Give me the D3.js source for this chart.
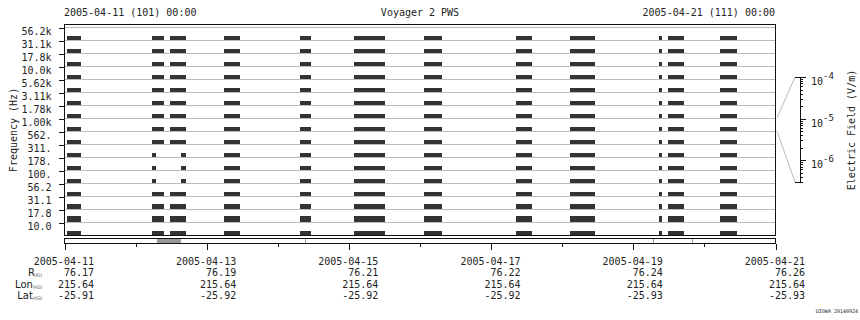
<!DOCTYPE html>
<html>
<head>
<meta charset="utf-8">
<script src="https://cdn.jsdelivr.net/npm/d3@7"></script>
<style>
  html, body { margin: 0; padding: 0; background: #fff; }
  svg { display: block; }
  text { font-family: "DejaVu Sans Mono", monospace; font-size: 10px; fill: #222; }
</style>
</head>
<body>
<div id="chart"></div>
<script>
// --- data ---
const channels = ["56.2k", "31.1k", "17.8k", "10.0k", "5.62k", "3.11k", "1.78k", "1.00k",
                  "562.", "311.", "178.", "100.", "56.2", "31.1", "17.8", "10.0"];
// strip height per channel (px of signal)
const stripLevel = [4, 4, 4, 4, 4, 4, 4, 4, 4, 4, 4, 4, 4, 5, 6, 4];

// times with data (UT)
const segments = [
  ["2005-04-11T01:00", "2005-04-11T05:45"],
  ["2005-04-12T05:40", "2005-04-12T09:45"],
  ["2005-04-12T11:45", "2005-04-12T17:10"],
  ["2005-04-13T06:00", "2005-04-13T11:25"],
  ["2005-04-14T07:40", "2005-04-14T11:25"],
  ["2005-04-15T01:55", "2005-04-15T12:20"],
  ["2005-04-16T01:30", "2005-04-16T07:35"],
  ["2005-04-17T08:35", "2005-04-17T14:00"],
  ["2005-04-18T02:50", "2005-04-18T11:15"],
  ["2005-04-19T08:50", "2005-04-19T09:55"],
  ["2005-04-19T11:55", "2005-04-19T17:20"],
  ["2005-04-20T05:25", "2005-04-20T11:10"]
];
// channels that only have small pieces during segments 2 and 3
const gapChannels = ["311.", "178.", "100."];
const gapSegments = [1, 2];
const partialPieces = [
  ["2005-04-12T05:40", "2005-04-12T07:05"],
  ["2005-04-12T15:30", "2005-04-12T17:10"]
];

// time bar
const coverage = [["2005-04-12T07:25", "2005-04-12T15:30"]];
const markers = ["2005-04-14T09:20", "2005-04-19T06:50", "2005-04-19T20:00"];

// bottom ephemeris table
const tickDates = ["2005-04-11", "2005-04-13", "2005-04-15", "2005-04-17", "2005-04-19", "2005-04-21"];
const rAU = ["76.17", "76.19", "76.21", "76.22", "76.24", "76.26"];
const lonHGI = ["215.64", "215.64", "215.64", "215.64", "215.64", "215.64"];
const latHGI = ["-25.91", "-25.92", "-25.92", "-25.92", "-25.93", "-25.93"];

// colour bar
const fieldDomain = [3e-7, 1e-4];

const W = 860, H = 320;
const mLeft = 64, mRight = 775, mTop = 24, mBottom = 235;
const parse = d3.utcParse("%Y-%m-%dT%H:%M");
const parseDay = d3.utcParse("%Y-%m-%d");

const svg = d3.select("#chart").append("svg")
  .attr("width", W).attr("height", H)
  .attr("viewBox", `0 0 ${W} ${H}`);

const x = d3.scaleUtc()
  .domain([parseDay("2005-04-11"), parseDay("2005-04-21")])
  .range([mLeft, mRight]);

const yBand = d3.scaleBand().domain(channels).range([27, 235]).padding(0);
const yTick = d3.scalePoint().domain(channels).range([27, 222]);

// gray channel lines
svg.append("g").selectAll("line").data(channels).join("line")
  .attr("x1", mLeft).attr("x2", mRight)
  .attr("y1", d => yTick(d) + 0.5).attr("y2", d => yTick(d) + 0.5)
  .attr("stroke", "#bbb").attr("stroke-width", 1)
  .attr("shape-rendering", "crispEdges");

// signal strips
const bars = [];
segments.forEach((s, si) => {
  channels.forEach((ch, ci) => {
    if (gapChannels.includes(ch) && gapSegments.includes(si)) return;
    bars.push({ t0: parse(s[0]), t1: parse(s[1]), ch, h: stripLevel[ci] });
  });
});
gapChannels.forEach(ch => {
  const ci = channels.indexOf(ch);
  partialPieces.forEach(p => bars.push({ t0: parse(p[0]), t1: parse(p[1]), ch, h: stripLevel[ci] }));
});

svg.append("g").selectAll("rect").data(bars).join("rect")
  .attr("x", d => Math.round(x(d.t0)))
  .attr("width", d => Math.max(1, Math.round(x(d.t1)) - Math.round(x(d.t0))))
  .attr("y", d => yBand(d.ch) + yBand.bandwidth() - d.h)
  .attr("height", d => d.h)
  .attr("fill", "#333")
  .attr("shape-rendering", "crispEdges");

// frame
svg.append("rect")
  .attr("x", mLeft + 0.5).attr("y", mTop + 0.5)
  .attr("width", mRight - mLeft).attr("height", mBottom - mTop)
  .attr("fill", "none").attr("stroke", "#111")
  .attr("shape-rendering", "crispEdges");

// left axis
const yAxis = svg.append("g")
  .attr("transform", `translate(${mLeft + 0.5},0.5)`)
  .call(d3.axisLeft(yTick).tickSize(6).tickPadding(7));
yAxis.select(".domain").remove();
yAxis.selectAll("line").attr("stroke", "#111").attr("shape-rendering", "crispEdges");
yAxis.selectAll("text")
  .attr("dy", "0.68em")
  .style("font-family", "DejaVu Sans Mono, monospace")
  .style("font-size", "10px").attr("fill", "#222");

svg.append("text")
  .attr("transform", "translate(17,130) rotate(-90)")
  .attr("text-anchor", "middle")
  .text("Frequency (Hz)");

// titles
svg.append("text").attr("x", mLeft).attr("y", 16).text("2005-04-11 (101) 00:00");
svg.append("text").attr("x", 420).attr("y", 16).attr("text-anchor", "middle").text("Voyager 2 PWS");
svg.append("text").attr("x", mRight).attr("y", 16).attr("text-anchor", "end").text("2005-04-21 (111) 00:00");

// time bar
const tb = svg.append("g");
tb.selectAll("rect.cov").data(coverage).join("rect")
  .attr("class", "cov")
  .attr("x", d => x(parse(d[0]))).attr("width", d => x(parse(d[1])) - x(parse(d[0])))
  .attr("y", 238).attr("height", 5)
  .attr("fill", "#999").attr("shape-rendering", "crispEdges");
tb.selectAll("line.mk").data(markers).join("line")
  .attr("class", "mk")
  .attr("x1", d => Math.round(x(parse(d))) + 0.5).attr("x2", d => Math.round(x(parse(d))) + 0.5)
  .attr("y1", 238).attr("y2", 243)
  .attr("stroke", "#999").attr("shape-rendering", "crispEdges");
tb.append("rect")
  .attr("x", mLeft + 0.5).attr("y", 238.5)
  .attr("width", mRight - mLeft).attr("height", 5)
  .attr("fill", "none").attr("stroke", "#111").attr("shape-rendering", "crispEdges");

const minorAxis = svg.append("g")
  .attr("transform", "translate(0.5,243.5)")
  .call(d3.axisBottom(x).ticks(d3.utcDay.every(1)).tickSize(3).tickFormat(""));
minorAxis.select(".domain").remove();
const majorAxis = svg.append("g")
  .attr("transform", "translate(0.5,243.5)")
  .call(d3.axisBottom(x).tickValues(tickDates.map(parseDay)).tickSize(6).tickFormat(""));
majorAxis.select(".domain").remove();
svg.selectAll(".tick line").attr("stroke", "#111").attr("shape-rendering", "crispEdges");

// ephemeris table
const rows = [
  { y: 265, vals: tickDates },
  { y: 276, vals: rAU, label: "R", sub: "AU" },
  { y: 288, vals: lonHGI, label: "Lon", sub: "HGI" },
  { y: 299, vals: latHGI, label: "Lat", sub: "HGI" }
];
rows.forEach(r => {
  svg.append("g").selectAll("text").data(r.vals).join("text")
    .attr("x", (d, i) => x(parseDay(tickDates[i])) + 30)
    .attr("y", r.y)
    .attr("text-anchor", "end")
    .text(d => d);
  if (r.label) {
    const t = svg.append("text").attr("x", 42).attr("y", r.y).attr("text-anchor", "end")
      .style("font-family", "DejaVu Sans, sans-serif");
    t.append("tspan").text(r.label);
    t.append("tspan").attr("dy", 1).style("font-size", "5px").attr("fill", "#666").text(r.sub);
  }
});

// colour bar (electric field)
const c = d3.scaleLog().domain(fieldDomain).range([182, 77]);
const cx = 800;
svg.append("line").attr("x1", 777).attr("y1", 118).attr("x2", 795).attr("y2", c(fieldDomain[1]))
  .attr("stroke", "#bbb");
svg.append("line").attr("x1", 777).attr("y1", 131).attr("x2", 795).attr("y2", c(fieldDomain[0]))
  .attr("stroke", "#bbb");
const cb = svg.append("g");
cb.append("line").attr("x1", cx + 0.5).attr("x2", cx + 0.5)
  .attr("y1", c(fieldDomain[1])).attr("y2", c(fieldDomain[0]) + 1)
  .attr("stroke", "#111").attr("shape-rendering", "crispEdges");
[fieldDomain[0], fieldDomain[1]].forEach(v => {
  cb.append("line").attr("x1", 795).attr("x2", cx + 1)
    .attr("y1", Math.round(c(v)) + 0.5).attr("y2", Math.round(c(v)) + 0.5)
    .attr("stroke", "#111").attr("shape-rendering", "crispEdges");
});
const cTicks = c.ticks();
cb.selectAll("line.ct").data(cTicks).join("line")
  .attr("class", "ct")
  .attr("x1", cx).attr("x2", d => {
    const m = Math.abs(Math.log10(d) - Math.round(Math.log10(d))) < 1e-9;
    return cx + (m ? 6 : 3);
  })
  .attr("y1", d => Math.round(c(d)) + 0.5).attr("y2", d => Math.round(c(d)) + 0.5)
  .attr("stroke", "#111").attr("shape-rendering", "crispEdges");
const majors = cTicks.filter(d => Math.abs(Math.log10(d) - Math.round(Math.log10(d))) < 1e-9);
majors.forEach(d => {
  const t = cb.append("text").attr("x", 811).attr("y", c(d) + 8);
  t.append("tspan").text("10");
  t.append("tspan").attr("dy", -6).style("font-size", "9px").text(Math.round(Math.log10(d)));
});
svg.append("text")
  .attr("transform", "translate(855,130) rotate(-90)")
  .attr("text-anchor", "middle")
  .text("Electric Field (V/m)");

svg.append("text").attr("x", 858).attr("y", 313).attr("text-anchor", "end")
  .style("font-size", "5px").attr("fill", "#666").text("UIOWA 20140924");
</script>
</body>
</html>
